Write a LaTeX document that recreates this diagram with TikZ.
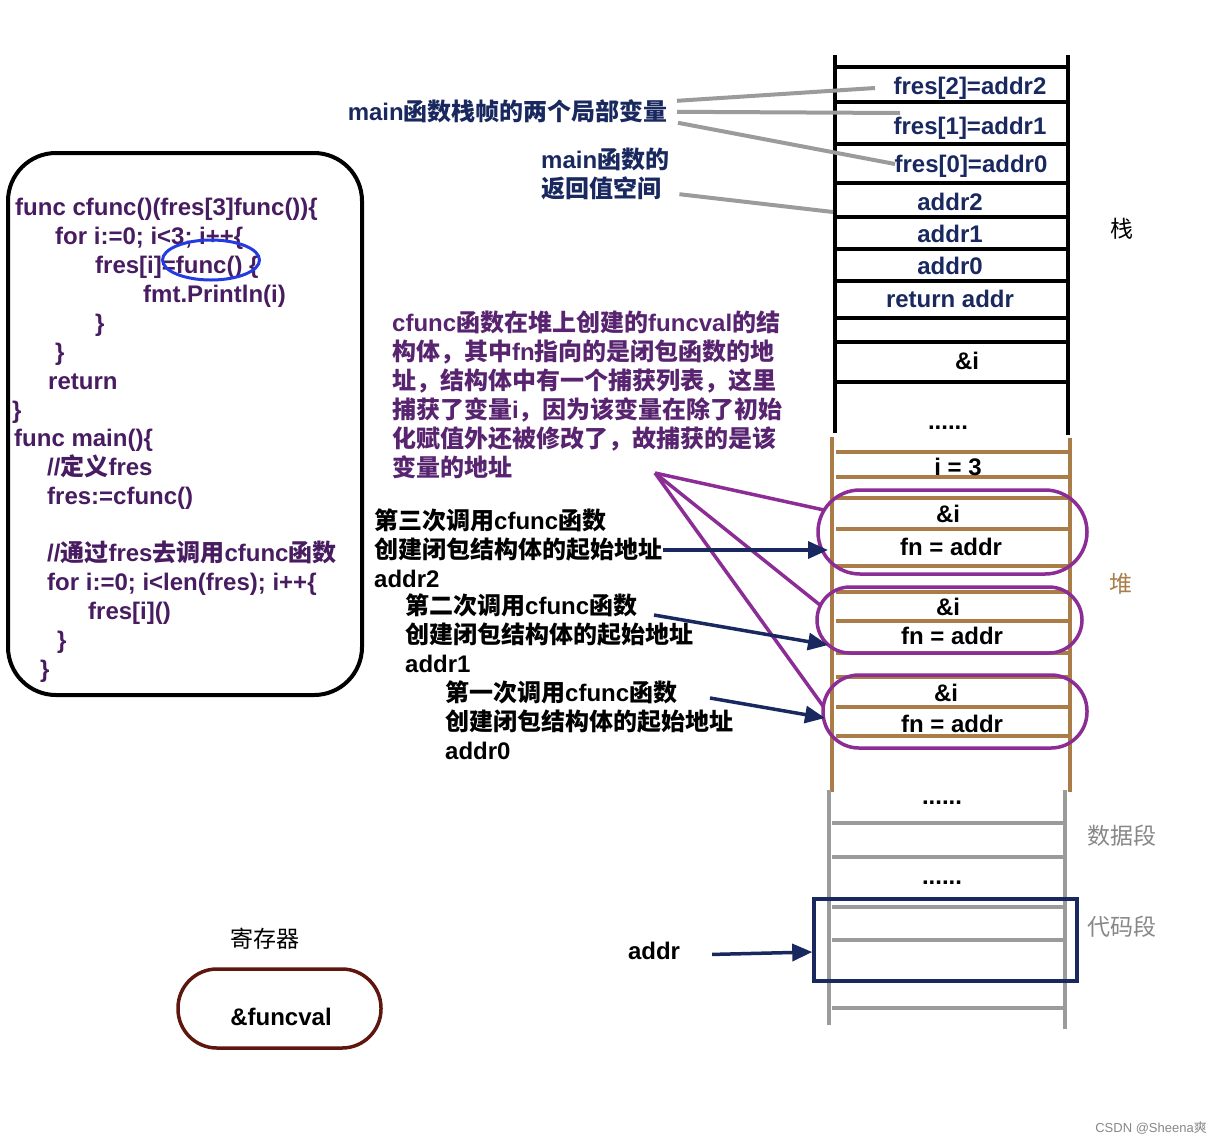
\documentclass[tikz,border=0pt]{standalone}
\usepackage{fontspec}
\setmainfont{Liberation Sans}
\newfontfamily\zhfont{Noto Sans CJK SC}
\newcommand\zh[1]{{\zhfont #1}}
\usetikzlibrary{arrows.meta,shapes.geometric}
\definecolor{codepurple}{RGB}{72,28,96}
\definecolor{notepurple}{RGB}{88,36,112}
\definecolor{ringpurple}{RGB}{140,45,150}
\definecolor{stacknavy}{RGB}{25,40,95}
\definecolor{heapbrown}{RGB}{170,125,72}
\definecolor{segcolor}{RGB}{155,155,155}
\definecolor{labelgray}{RGB}{135,135,135}
\definecolor{ringblue}{RGB}{35,60,225}
\definecolor{regred}{RGB}{95,22,15}

\begin{document}
\begin{tikzpicture}[
    x=1pt,y=-1pt,
    big/.style={font=\fontsize{24}{29}\selectfont\bfseries, inner sep=0pt},
    code/.style={big, anchor=base west, text=codepurple},
    stk/.style={big, anchor=base, text=stacknavy},
    heap/.style={big, anchor=base, text=black},
    seg/.style={font=\fontsize{23}{28}\selectfont, inner sep=0pt, anchor=base},
    closure/.style={draw=ringpurple, line width=3.5pt},
    stackline/.style={line width=4.5pt, draw=black},
    heapline/.style={line width=4pt, draw=heapbrown},
    grayline/.style={line width=3.5pt, draw=segcolor},
    lead/.style={line width=4pt, draw=segcolor},
    hook/.style={line width=3.5pt, draw=ringpurple},
    a/.style={-{Triangle[length=20pt,width=17pt]}, line width=3.5pt, draw=stacknavy}
]
\useasboundingbox (0,0) rectangle (1222,1144);

% code of the program
\node[draw=black, line width=4pt, rounded corners=48pt, minimum width=354pt, minimum height=542pt] (codebox) at (185,424) {};
\node[code] (c1) at (15,215) {func cfunc()(fres[3]func())\{};
\node[code] (c2) at (55,244) {for i:=0; i<3; i++\{};
\node[code] (c3) at (95,273) {fres[i]=func() \{};
\node[code] (c4) at (143,302) {fmt.Println(i)};
\node[code] (c5) at (95,331) {\}};
\node[code] (c6) at (55,360) {\}};
\node[code] (c7) at (48,389) {return};
\node[code] (c8) at (12,418) {\}};
\node[code] (c9) at (14,446) {func main()\{};
\node[code] (c10) at (47,475) {//\zh{定义}fres};
\node[code] (c11) at (47,504) {fres:=cfunc()};
\node[code] (c12) at (47,561) {//\zh{通过}fres\zh{去调用}cfunc\zh{函数}};
\node[code] (c13) at (47,590) {for i:=0; i<len(fres); i++\{};
\node[code] (c14) at (88,619) {fres[i]()};
\node[code] (c15) at (57,648) {\}};
\node[code] (c16) at (40,677) {\}};
\node[draw=ringblue, ellipse, line width=3pt, minimum width=97pt, minimum height=40pt] (ring) at (211,260) {};

% stack
\draw[stackline] (835,55) -- (835,433);
\draw[stackline] (1068,55) -- (1068,435);
\foreach \y in {67,102,144,183,217,249,281,318,342,382}
  \draw[stackline] (835,\y) -- (1068,\y);
\node[stk] (f2) at (970,94) {fres[2]=addr2};
\node[stk] (f1) at (970,134) {fres[1]=addr1};
\node[stk] (f0) at (971,172) {fres[0]=addr0};
\node[stk] (r2) at (950,210) {addr2};
\node[stk] (r1) at (950,242) {addr1};
\node[stk] (r0) at (950,274) {addr0};
\node[stk] (ret) at (950,307) {return addr};
\node[heap] (iref) at (967,369) {\&i};
\node[heap] (dots1) at (948,429) {......};
\node[seg] (stacklbl) at (1122,237) {\zh{栈}};

% heap
\draw[heapline] (832,437) -- (832,792);
\draw[heapline] (1070,438) -- (1070,792);
\foreach \y in {452,477,498,529,566,592,621,653,677,707,736}
  \draw[heapline] (836,\y) -- (1068,\y);
\node[heap] (ival) at (958,475) {i = 3};
\node[heap] (cap2) at (948,522) {\&i};
\node[heap] (fn2) at (951,555) {fn = addr};
\node[heap] (cap1) at (948,615) {\&i};
\node[heap] (fn1) at (952,644) {fn = addr};
\node[heap] (cap0) at (946,701) {\&i};
\node[heap] (fn0) at (952,732) {fn = addr};
\node[closure, rounded corners=42pt, minimum width=269pt, minimum height=84pt] (clos2) at (952.5,532) {};
\node[closure, rounded corners=33pt, minimum width=265pt, minimum height=66pt] (clos1) at (949.5,620) {};
\node[closure, rounded corners=36pt, minimum width=264pt, minimum height=73pt] (clos0) at (955,711.5) {};
\node[seg, text=heapbrown] (heaplbl) at (1121,592) {\zh{堆}};

% data and code segments
\draw[grayline] (829,790) -- (829,1025);
\draw[grayline] (1065,790) -- (1065,1029);
\foreach \y in {823,857,907,940,1008}
  \draw[grayline] (832,\y) -- (1063,\y);
\node[heap] (dots2) at (942,804) {......};
\node[heap] (dots3) at (942,884) {......};
\node[draw=stacknavy, line width=3.5pt, minimum width=263pt, minimum height=82pt] (codeseg) at (945.5,940) {};
\node[seg, text=labelgray] (datalbl) at (1122,844) {\zh{数据段}};
\node[seg, text=labelgray] (codelbl) at (1122,935) {\zh{代码段}};
\node[heap] (addrlbl) at (654,959) {addr};

% notes on the stack
\node[big, anchor=base east, text=stacknavy] (locals) at (668,120) {main\zh{函数栈帧的两个局部变量}};
\node[big, anchor=north west, text=stacknavy, align=left] (retspace) at (541,148) {main\zh{函数的}\\\zh{返回值空间}};
\coordinate (e2) at (875,88);
\coordinate (e1) at (900,113);
\coordinate (e0) at (895,164);
\coordinate (eret) at (833,212);
\draw[lead] ([shift={(9pt,10pt)}]locals.east) -- (e2);
\draw[lead] ([shift={(9pt,-1pt)}]locals.east) -- (e1);
\draw[lead] ([shift={(10pt,-12pt)}]locals.east) -- (e0);
\draw[lead] ([shift={(10pt,-20pt)}]retspace.east) -- (eret);

% note on the heap
\node[big, anchor=north west, text=notepurple, align=left] (heapnote) at (392,311)
  {cfunc\zh{函数在堆上创建的}funcval\zh{的结}\\
   \zh{构体，其中}fn\zh{指向的是闭包函数的地}\\
   \zh{址，结构体中有一个捕获列表，这里}\\
   \zh{捕获了变量}i\zh{，因为该变量在除了初始}\\
   \zh{化赋值外还被修改了，故捕获的是该}\\
   \zh{变量的地址}};
\coordinate (apex) at (655,473);
\coordinate (h2) at (824,510);
\coordinate (h1) at (820,605);
\coordinate (h0) at (823,706);
\draw[hook] (apex) -- (h2);
\draw[hook] (apex) -- (h1);
\draw[hook] (apex) -- (h0);

% the three calls
\node[big, anchor=north west, align=left] (call2) at (374,509) {\zh{第三次调用}cfunc\zh{函数}\\\zh{创建闭包结构体的起始地址}\\addr2};
\node[big, anchor=north west, align=left] (call1) at (405,594) {\zh{第二次调用}cfunc\zh{函数}\\\zh{创建闭包结构体的起始地址}\\addr1};
\node[big, anchor=north west, align=left] (call0) at (445,681) {\zh{第一次调用}cfunc\zh{函数}\\\zh{创建闭包结构体的起始地址}\\addr0};
\coordinate (s2) at (663,550);
\coordinate (t2) at (828,550);
\coordinate (s1) at (654,615);
\coordinate (t1) at (828,645);
\coordinate (s0) at (710,698);
\coordinate (t0) at (825,718);
\draw[a] (s2) -- (t2);
\draw[a] (s1) -- (t1);
\draw[a] (s0) -- (t0);
\draw[a] ([xshift=32pt,yshift=-4pt]addrlbl.east) -- ([yshift=-12pt]codeseg.west);

% register
\node[seg] (reglbl) at (265,947) {\zh{寄存器}};
\node[draw=regred, line width=3.5pt, rounded corners=39pt, minimum width=203pt, minimum height=79pt] (reg) at (279.5,1008.5) {};
\node[heap] (funcval) at (281,1025) {\&funcval};

\node[font=\fontsize{13}{15}\selectfont, text=labelgray, anchor=base east, inner sep=0pt] (mark) at (1207,1132) {CSDN @Sheena\zh{爽}};
\end{tikzpicture}
\end{document}
